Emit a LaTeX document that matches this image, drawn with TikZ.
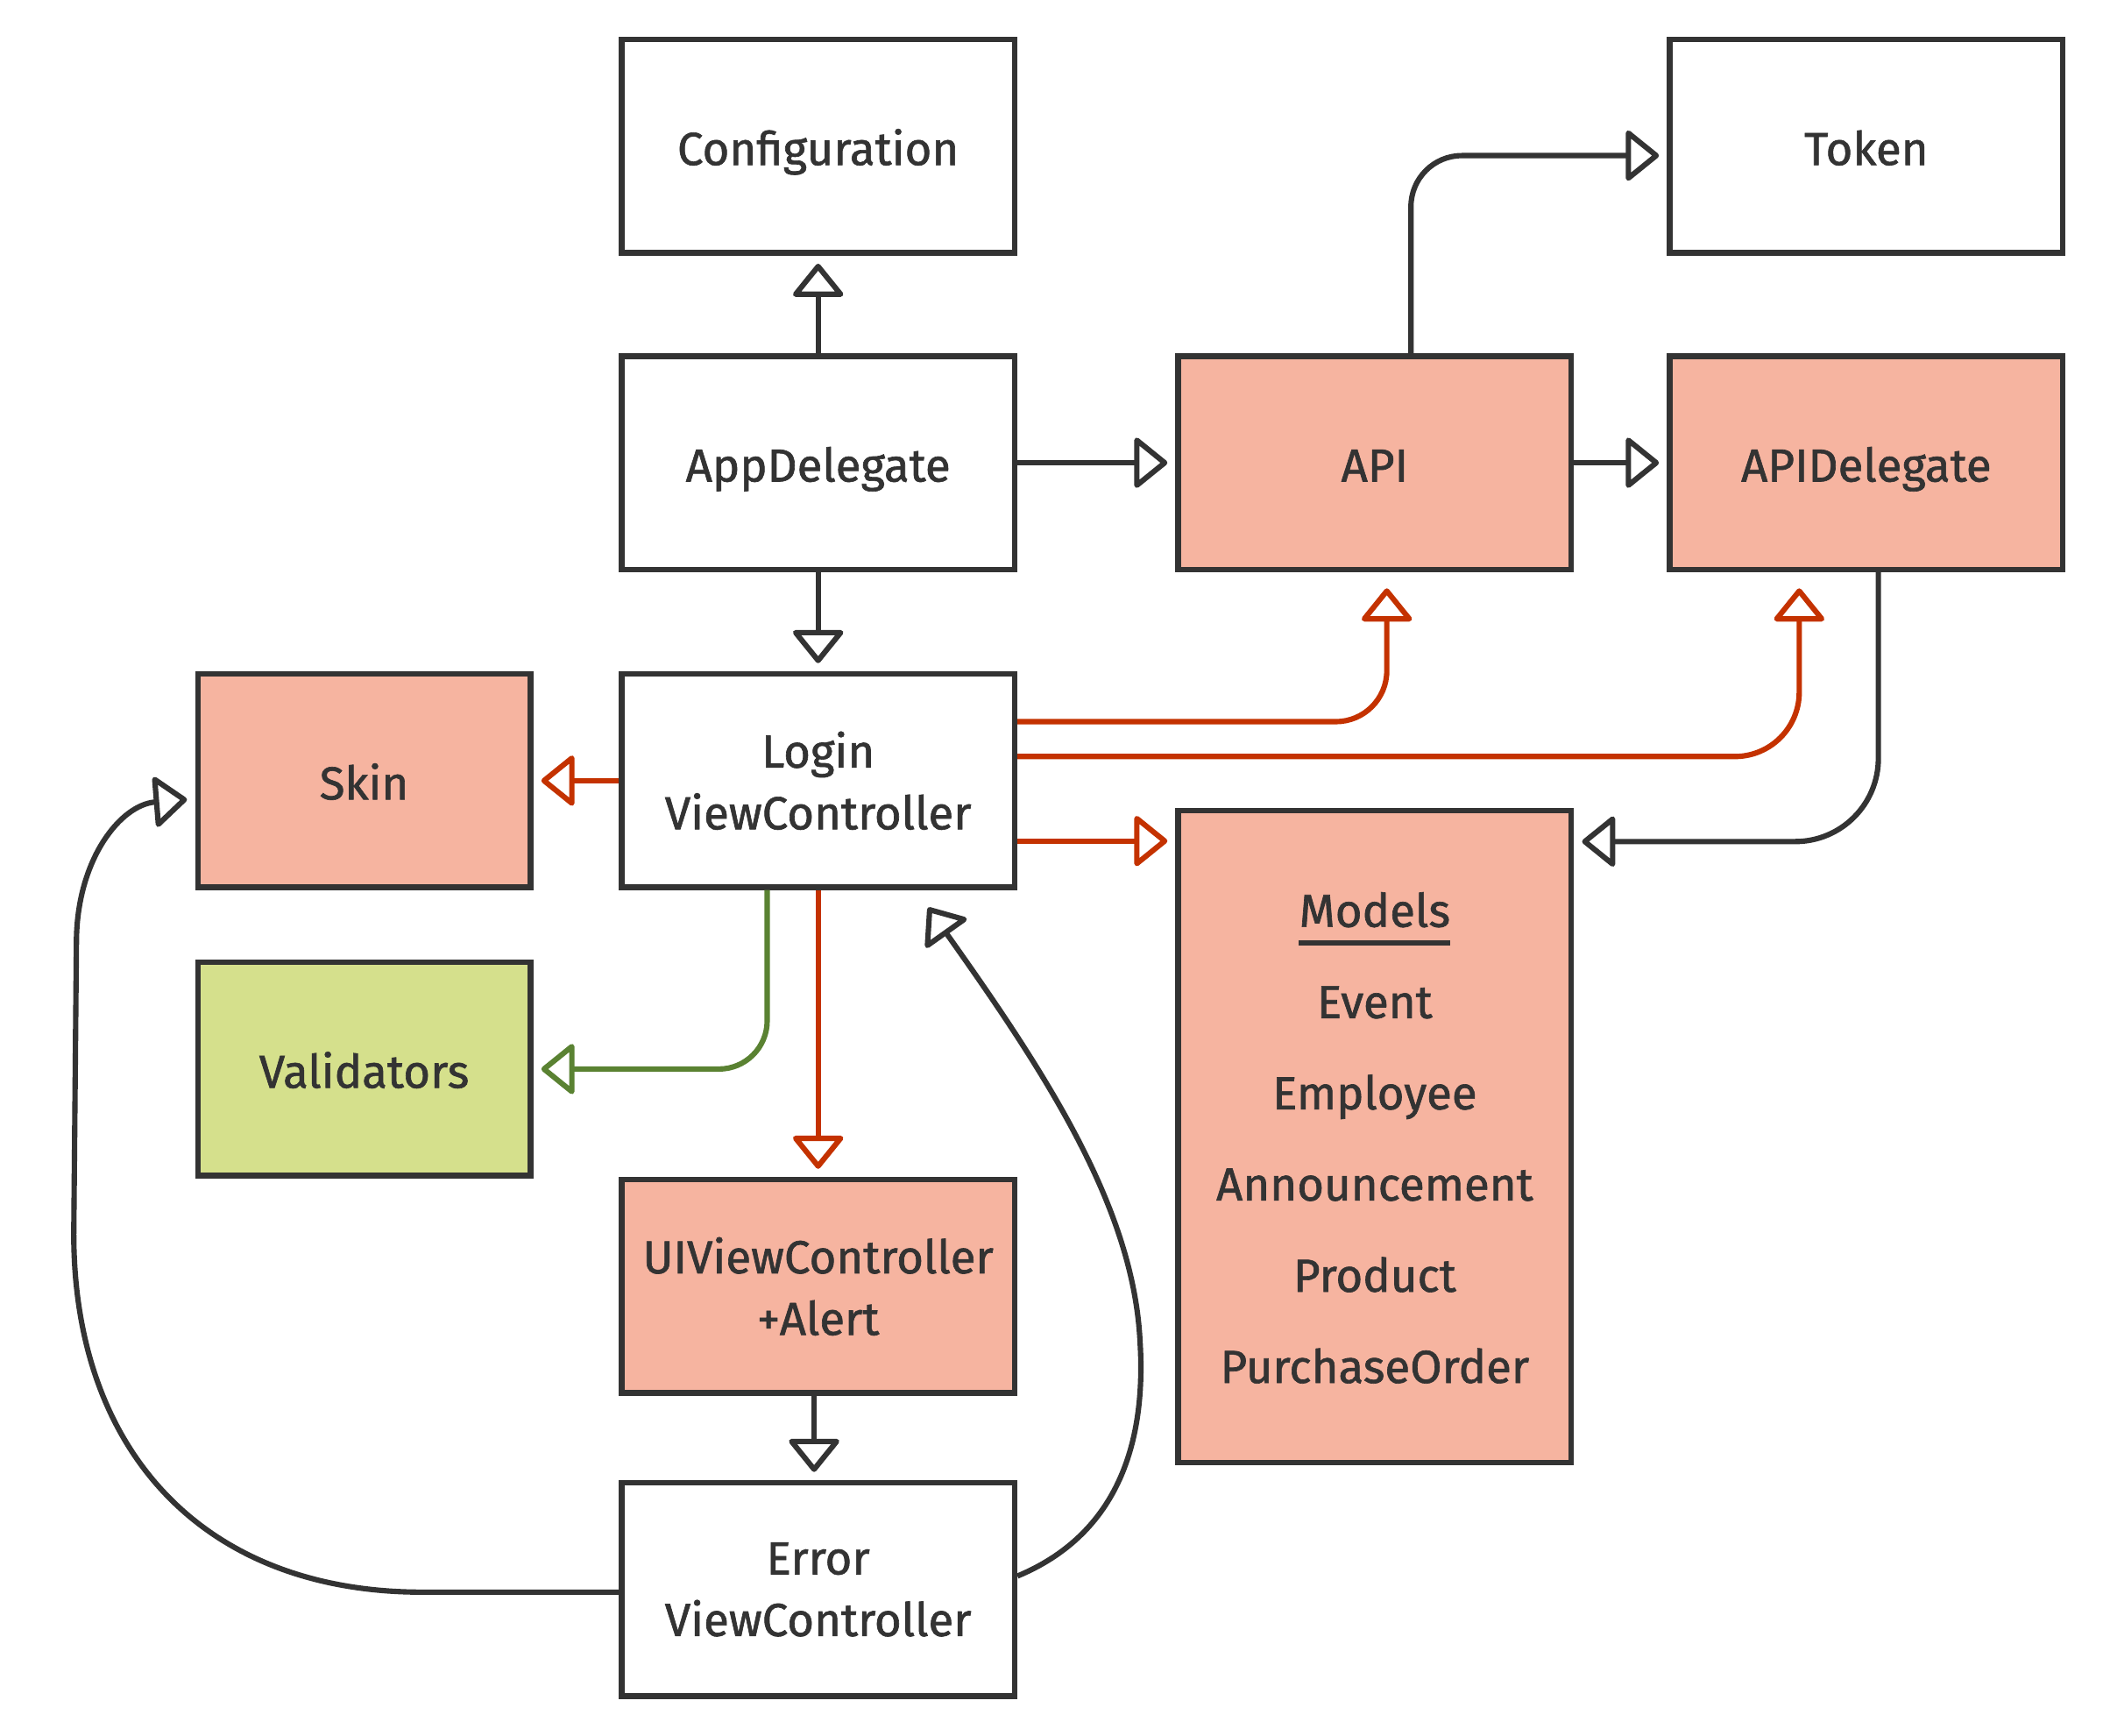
\documentclass[tikz,border=0pt]{standalone}
\usepackage{fontspec}
\setmainfont{Fira Sans}[BoldFont={Fira Sans}, BoldFeatures={FakeBold=1.2}]
\usetikzlibrary{arrows.meta,calc}
\definecolor{ink}{HTML}{333333}
\definecolor{salmon}{HTML}{F6B4A0}
\definecolor{lime}{HTML}{D5E08C}
\definecolor{redline}{HTML}{C43200}
\definecolor{greenline}{HTML}{5A8232}
\tikzset{
  box/.style={draw=ink, line width=4.2pt, fill=white, minimum width=293pt, minimum height=159pt,
    inner sep=0pt, text=ink, font=\fontsize{34.5}{46}\selectfont\bfseries, align=center},
  one/.style={text height=28pt, text depth=0pt},
  narrow/.style={minimum width=248pt},
  hot/.style={fill=salmon},
  lim/.style={fill=lime},
  lbl/.style={inner sep=0pt, text=ink, font=\fontsize{34.5}{46}\selectfont\bfseries, anchor=base},
  arr/.style={draw=ink, line width=4pt, -{Triangle[length=26pt,width=41pt,round,fill=white]}},
  redarr/.style={arr, draw=redline},
  greenarr/.style={arr, draw=greenline},
  gap/.style={shorten >=6pt},
  biggap/.style={shorten >=12pt}
}
\begin{document}
\begin{tikzpicture}[x=1pt,y=-1pt]
\useasboundingbox (0,0) rectangle (1568,1293.6);
% nodes
\node[box,one] (conf) at (610,109) {Configuration};
\node[box,one] (token) at (1391.5,109) {Token};
\node[box,one] (app) at (610,345) {AppDelegate};
\node[box,one,hot] (api) at (1025,345) {API};
\node[box,one,hot] (apid) at (1391.5,345) {APIDelegate};
\node[box,one,narrow,hot] (skin) at (271.5,582) {Skin};
\node[box] (login) at (610,582) {Login\\ViewController};
\node[box,one,narrow,lim] (valid) at (271.5,797) {Validators};
\node[box,hot,minimum height=486pt] (models) at (1025,847.5) {};
\node[box,hot] (alert) at (610,959) {UIViewController\\+Alert};
\node[box] (error) at (610,1185) {Error\\ViewController};
% models content
\node[lbl] (mt) at (1025,691) {Models};
\draw[ink, line width=4pt] ([yshift=-12pt]mt.base west) -- ([yshift=-12pt]mt.base east);
\node[lbl] (m1) at (1025,759) {Event};
\node[lbl] (m2) at (1025,827) {Employee};
\node[lbl] (m3) at (1025,895) {Announcement};
\node[lbl] (m4) at (1025,963) {Product};
\node[lbl] (m5) at (1025,1031) {PurchaseOrder};
% connectors
\draw[arr,gap] (app) -- (conf);
\draw[arr,gap] (app) -- (api);
\draw[arr,gap] (app) -- (login);
\draw[arr,gap,rounded corners=38pt] ([xshift=27pt]api.north) |- ([yshift=-7pt]token.west);
\draw[arr,gap] (api) -- (apid);
\draw[arr,gap,rounded corners=62pt] ([xshift=9pt]apid.south) |- ([yshift=-25pt]models.north east);
\draw[redarr,biggap,rounded corners=38pt] ([yshift=44pt]login.east) -| ([xshift=9pt]api.south);
\draw[redarr,biggap,rounded corners=48pt] ([yshift=18pt]login.east) -| ([xshift=-50pt]apid.south);
\coordinate (lm) at ([yshift=-45pt]login.east);
\draw[redarr,gap] (lm) -- (lm -| models.west);
\draw[redarr,gap] (login) -- (skin);
\draw[greenarr,gap,rounded corners=36pt] ([xshift=-38pt]login.south) |- (valid.east);
\draw[redarr,gap] (login) -- (alert);
\draw[arr,gap] ([xshift=-3pt]alert.south) -- ([xshift=-3pt]error.north);
\coordinate (e1) at ([yshift=10pt]error.east);
\coordinate (t1) at ([xshift=82pt,yshift=-13pt]login.south);
\draw[arr] (e1) .. controls +(72,-30) and +(5,80) .. (850,1000)
  .. controls +(-5,-100) and +(88,124) .. (t1);
\coordinate (e2) at ([yshift=-2pt]error.west);
\coordinate (t2) at ([xshift=-6pt,yshift=-14pt]skin.west);
\draw[arr] (e2) -- (315,1187) .. controls (150,1187) and (55,1080) .. (55,920)
  -- (57,700) .. controls (58,640) and (90,600) .. (t2);
\end{tikzpicture}
\end{document}
